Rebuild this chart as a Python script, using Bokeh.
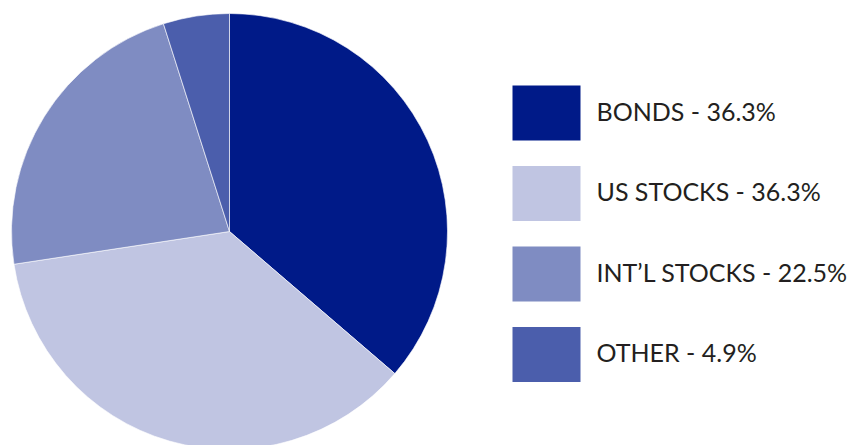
import numpy as np
from bokeh.plotting import figure
from bokeh.models import Range1d, ColumnDataSource
from bokeh.core.properties import value
from bokeh.embed import file_html
from bokeh.resources import INLINE

categories = ["BONDS", "US STOCKS", "INT\u2019L STOCKS", "OTHER"]
shares = [36.3, 36.3, 22.5, 4.9]
colors = ["#001A88", "#C0C5E2", "#7F8CC2", "#4B5EAC"]
labels = [f"{c} - {v}%" for c, v in zip(categories, shares)]

W, H = 848, 445
p = figure(width=W, height=H, output_backend="svg", toolbar_location=None,
           x_range=Range1d(0, W), y_range=Range1d(0, H), min_border=0)
p.axis.visible = False
p.grid.visible = False
p.outline_line_color = None
p.background_fill_color = "white"
p.border_fill_color = "white"

vals = np.array(shares)
frac = vals / vals.sum()
cum = np.concatenate([[0], np.cumsum(frac)])
start = np.pi / 2 - cum[:-1] * 2 * np.pi
end = np.pi / 2 - cum[1:] * 2 * np.pi

src = ColumnDataSource(dict(start=start, end=end, color=colors))
p.wedge(x=229, y=214, radius=218, start_angle="start", end_angle="end",
        direction="clock", fill_color="color", line_color="white", line_width=1,
        line_alpha=0.6, source=src)

ys = np.array([332.5, 252.0, 171.5, 91.0])
lsrc = ColumnDataSource(dict(y=ys, ty=ys + 2.5, color=colors, label=labels))
p.rect(x=546, y="y", width=68, height=55, fill_color="color", line_color=None, source=lsrc)
p.text(x=596, y="ty", text="label", text_font=value("Lato"), text_font_size="25px",
       text_color="#231F20", text_baseline="middle", text_align="left", source=lsrc)

open("out.html", "w").write(file_html(p, INLINE))
